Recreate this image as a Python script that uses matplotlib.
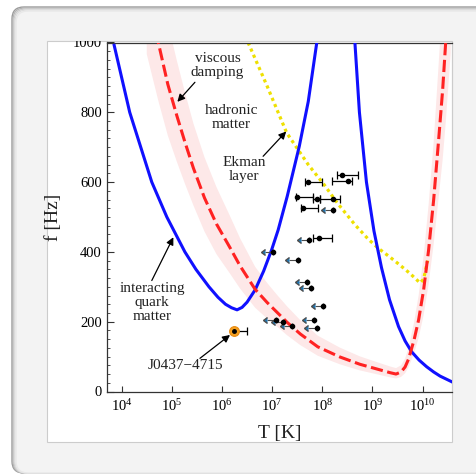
import numpy as np
import matplotlib.pyplot as plt
from matplotlib.patches import FancyBboxPatch, Rectangle
from matplotlib.ticker import MultipleLocator, NullLocator
from matplotlib.transforms import Bbox, TransformedBbox

plt.rcParams['font.family'] = ['Liberation Serif', 'DejaVu Serif']
plt.rcParams['mathtext.fontset'] = 'stix'

# instability window boundaries, log10(T/K) and f [Hz]
quark_logT = [3.85, 4.16, 4.60, 4.90, 5.26, 5.48, 5.74, 5.92, 6.07, 6.19, 6.30, 6.40, 6.50,
              6.66, 6.83, 6.99, 7.12, 7.30, 7.54, 7.72, 7.89]
quark_f = [992, 800, 600, 500, 400, 350, 300, 270, 250, 240, 234, 241, 256,
           291, 345, 406, 463, 559, 702, 831, 1000]

hadron_logT = [8.65, 8.74, 8.88, 9.03, 9.18, 9.34, 9.52, 9.65, 9.78, 9.93, 10.08, 10.22, 10.35, 10.58]
hadron_f = [1000, 800, 600, 460, 355, 263, 186, 145, 114, 90, 71, 56, 44, 28]

# viscous damping curve and its relative spread (pink band)
visc_logT = [4.50, 4.73, 4.92, 5.10, 5.26, 5.43, 5.65, 5.89, 6.16, 6.36, 6.66, 6.90, 7.09,
             7.30, 7.56, 7.91, 8.35, 8.75, 9.15, 9.35, 9.47, 9.57, 9.65, 9.72, 9.83,
             9.92, 10.02, 10.12, 10.22, 10.32, 10.40, 10.46, 10.56]
visc_f = [1160, 1000, 880, 790, 715, 640, 555, 480, 412, 360, 293, 255, 228,
          198, 165, 128, 99, 78, 62, 54, 50, 56, 70, 93, 148,
          205, 291, 406, 549, 722, 865, 1000, 1260]
visc_band = [1.20, 1.20, 1.20, 1.20, 1.20, 1.20, 1.21, 1.22, 1.22, 1.22, 1.22, 1.22, 1.22,
             1.23, 1.24, 1.25, 1.27, 1.29, 1.31, 1.33, 1.34, 1.34, 1.34, 1.34, 1.34,
             1.34, 1.33, 1.32, 1.30, 1.30, 1.30, 1.30, 1.30]

ekman_logT = [6.52, 6.90, 7.29, 7.72, 8.05, 8.30, 8.65, 8.92, 9.12, 9.35, 9.55, 9.75, 9.95, 10.02, 10.10]
ekman_f = [1000, 875, 741, 650, 590, 540, 478, 436, 410, 385, 362, 338, 311, 322, 375]

# LMXBs with temperature estimates (log10 T, f, lower/upper T)
src_logT = [8.39, 7.72, 8.52, 7.49, 7.89, 8.22, 7.62, 7.94]
src_f = [619, 600, 602, 556, 552, 552, 526, 441]
src_lo = [8.29, 7.66, 8.19, 7.48, 7.82, 7.95, 7.58, 7.81]
src_hi = [8.71, 7.99, 8.60, 7.82, 7.95, 8.35, 7.92, 8.19]

# upper limits on T
lim_logT = [8.22, 7.74, 7.02, 7.51, 7.70, 7.78, 8.02, 7.07, 7.22, 7.40, 7.84, 7.89]
lim_f = [519, 435, 401, 378, 313, 296, 245, 205, 200, 188, 205, 183]
lim_len = 0.17

# J0437-4715
msp_logT, msp_f, msp_hi = 6.245, 173.6, 6.493

fig = plt.figure(figsize=(4.77, 4.75), dpi=100)
fig.patch.set_facecolor('white')

W, H = 477.0, 475.0
# rounded outer box with a soft shadow on its edge
shades = ['#9a9a9a', '#b4b4b4', '#cbcbcb', '#dcdcdc', '#e8e8e8']
for i, c in enumerate(shades):
    fig.patches.append(FancyBboxPatch(((12 + i) / W, 2 / H), (500 - i) / W, (466 - i) / H,
                                      boxstyle='round,pad=0,rounding_size=0.025',
                                      transform=fig.transFigure,
                                      facecolor='#f3f3f3' if i == len(shades) - 1 else 'none',
                                      edgecolor=c, linewidth=1.0, zorder=-10 + i * 0.1))
panel = Rectangle((47 / W, 33 / H), 405 / W, 401 / H, transform=fig.transFigure,
                  facecolor='white', edgecolor='#cccccc', linewidth=0.8, zorder=-9)
fig.patches.append(panel)

ax = fig.add_axes([107.5 / W, 83.5 / H, 344.2 / W, 349 / H])
ax.set_facecolor('none')
ax.set_xscale('log')
ax.set_xlim(10 ** 3.717, 10 ** 10.58)
ax.set_ylim(0, 1000)

vT = 10 ** np.array(visc_logT)
vf = np.array(visc_f, dtype=float)
vb = np.array(visc_band)
ax.fill_between(vT, vf / vb, vf * vb, color='#fde8e8', lw=0, zorder=1)

ax.plot(10 ** np.array(quark_logT), quark_f, color='#1010ff', lw=2.2, zorder=3)
ax.plot(10 ** np.array(hadron_logT), hadron_f, color='#1010ff', lw=2.2, zorder=3)
ax.plot(10 ** np.array(ekman_logT), ekman_f, color='#eee000', lw=2.3,
        dashes=(1, 1.1), zorder=2)
ax.plot(vT, vf, color='#ff2222', lw=2.2, dashes=(4, 1.5), zorder=4)

T = 10 ** np.array(src_logT)
ax.errorbar(T, src_f, xerr=[T - 10 ** np.array(src_lo), 10 ** np.array(src_hi) - T],
            fmt='o', ms=3, color='black', ecolor='black', elinewidth=0.9,
            capsize=2.8, capthick=0.9, zorder=6)

TL = 10 ** np.array(lim_logT)
ax.errorbar(TL, lim_f, xerr=[TL - TL / 10 ** lim_len, np.zeros(len(TL))], xuplims=True,
            fmt='none', ecolor='#4d4d4d', elinewidth=0.8, capsize=2, zorder=5)
ax.plot(TL, lim_f, 'o', ms=3, color='black', zorder=6)

Tm = 10 ** msp_logT
ax.errorbar([Tm], [msp_f], xerr=[[0], [10 ** msp_hi - Tm]], fmt='none',
            ecolor='black', elinewidth=0.9, capsize=2.8, capthick=0.9, zorder=6)
ax.plot([Tm], [msp_f], 'o', ms=7, mfc='#f5a020', mec='#e88a10', mew=0.8, zorder=7)
ax.plot([Tm], [msp_f], 'o', ms=2.5, color='black', zorder=8)

tsize = 11
ax.text(10 ** 5.91, 935, 'viscous\ndamping', ha='center', va='center', fontsize=tsize,
        linespacing=1.1, color='#222222')
ax.text(10 ** 6.19, 786, 'hadronic\nmatter', ha='center', va='center', fontsize=tsize,
        linespacing=1.1, color='#222222')
ax.text(10 ** 6.44, 636, 'Ekman\nlayer', ha='center', va='center', fontsize=tsize,
        linespacing=1.1, color='#222222')
ax.text(10 ** 4.61, 254, 'interacting\nquark\nmatter', ha='center', va='center',
        fontsize=tsize, linespacing=1.1, color='#222222')
ax.text(10 ** 5.28, 74, 'J0437\u22124715', ha='center', va='center', fontsize=tsize,
        color='#222222')

arrow = dict(arrowstyle='-|>', color='black', lw=0.9, mutation_scale=11,
             shrinkA=0, shrinkB=0)
ax.annotate('', xy=(10 ** 5.11, 830), xytext=(10 ** 5.46, 886), arrowprops=arrow)
ax.annotate('', xy=(10 ** 7.28, 745), xytext=(10 ** 6.82, 674), arrowprops=arrow)
ax.annotate('', xy=(10 ** 5.03, 442), xytext=(10 ** 4.60, 318), arrowprops=arrow)
ax.annotate('', xy=(10 ** 6.16, 162), xytext=(10 ** 5.56, 95), arrowprops=arrow)

ax.set_xticks(10.0 ** np.arange(4, 11))
ax.xaxis.set_minor_locator(NullLocator())
ax.set_yticks(np.arange(0, 1001, 200))
ax.yaxis.set_minor_locator(MultipleLocator(25))
ax.tick_params(which='both', direction='in', top=False, right=False, color='#333333')
ax.tick_params(axis='x', which='major', length=4, width=0.8, labelsize=10.5, pad=5)
ax.tick_params(axis='y', which='major', length=5, width=0.8, labelsize=10.5, pad=4)
ax.tick_params(axis='y', which='minor', length=2.5, width=0.6)

for side in ['left', 'bottom', 'top']:
    ax.spines[side].set_color('#333333')
    ax.spines[side].set_linewidth(0.9)
ax.spines['right'].set_color('#cccccc')
ax.spines['right'].set_linewidth(0.8)

ax.set_xlabel('T [K]', fontsize=14, labelpad=8, color='#222222')
ax.set_ylabel('f [Hz]', fontsize=14, labelpad=8, color='#222222')

fig.canvas.draw()
clip = TransformedBbox(Bbox([[0, 0], [1, (H - 41) / H]]), fig.transFigure)
for t in ax.yaxis.get_major_ticks():
    t.label1.set_clip_box(clip)
    t.label1.set_clip_on(True)

fig.savefig('out.png', dpi=100)
